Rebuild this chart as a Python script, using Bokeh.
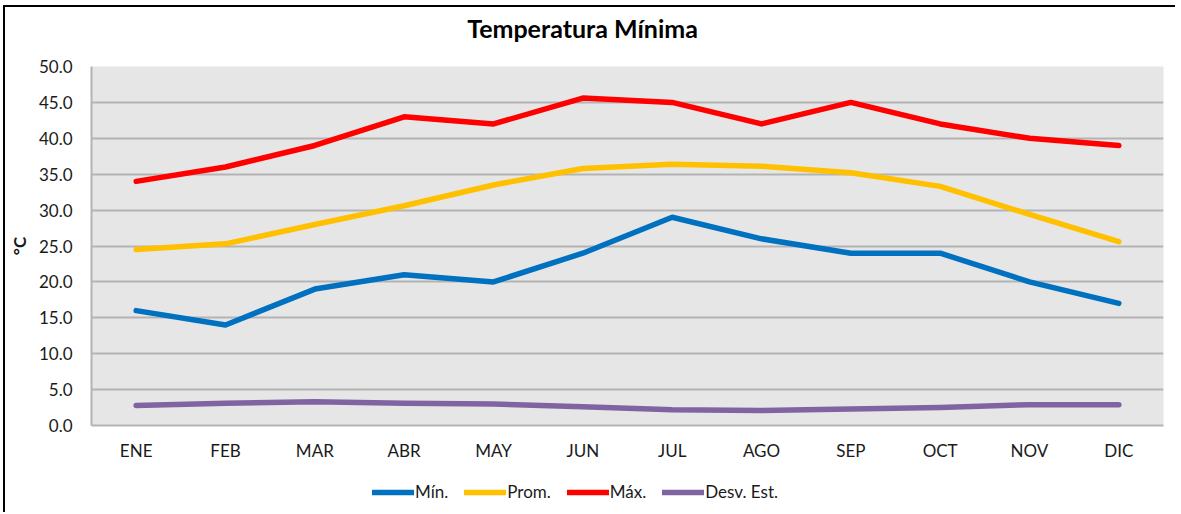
from bokeh.plotting import figure
from bokeh.layouts import column
from bokeh.models import (FactorRange, Range1d, Legend, LegendItem, SingleIntervalTicker,
                          NumeralTickFormatter, Label)
from bokeh.embed import file_html
from bokeh.resources import INLINE

months = ["ENE", "FEB", "MAR", "ABR", "MAY", "JUN", "JUL", "AGO", "SEP", "OCT", "NOV", "DIC"]
t_min = [16.0, 14.0, 19.0, 21.0, 20.0, 24.0, 29.0, 26.0, 24.0, 24.0, 20.0, 17.0]
t_prom = [24.5, 25.3, 28.0, 30.6, 33.5, 35.8, 36.4, 36.1, 35.2, 33.3, 29.4, 25.6]
t_max = [34.0, 36.0, 39.0, 43.0, 42.0, 45.6, 45.0, 42.0, 45.0, 42.0, 40.0, 39.0]
t_desv = [2.8, 3.1, 3.3, 3.1, 3.0, 2.6, 2.2, 2.1, 2.3, 2.5, 2.9, 2.9]
title_text = "Temperatura Mínima"

FONT = "Lato"
TXT = "#1a1a1a"
W = 1170

# header strip holding the chart title
hd = figure(width=W, height=40, x_range=Range1d(0, 1), y_range=Range1d(0, 1),
            x_axis_location=None, y_axis_location=None,
            output_backend="svg", toolbar_location=None,
            min_border_left=0, min_border_right=0, min_border_top=0, min_border_bottom=0)
hd.grid.visible = False
hd.outline_line_color = None
hd.background_fill_color = "white"
hd.border_fill_color = "white"
hd.add_layout(Label(x=491, y=20, x_units="screen", y_units="screen", text=title_text,
                    text_align="center", text_baseline="middle", text_font=FONT,
                    text_font_size="25px", text_font_style="bold", text_color="#000000"))

p = figure(
    width=W, height=421,
    x_range=FactorRange(*months, range_padding=0),
    y_range=Range1d(0, 50),
    output_backend="svg", toolbar_location=None,
    min_border_left=86, min_border_right=12, min_border_top=19, min_border_bottom=43,
)

p.background_fill_color = "#e6e6e6"
p.border_fill_color = "white"
p.outline_line_color = None

p.xgrid.grid_line_color = None
p.ygrid.grid_line_color = "#b3b3b3"
p.ygrid.grid_line_width = 2

p.yaxis.ticker = SingleIntervalTicker(interval=5)
p.yaxis.formatter = NumeralTickFormatter(format="0.0")
p.yaxis.axis_label = "°C"
p.yaxis.axis_label_text_font = FONT
p.yaxis.axis_label_text_font_size = "17px"
p.yaxis.axis_label_text_font_style = "bold"
p.yaxis.axis_label_text_color = TXT
p.yaxis.axis_label_standoff = 6
p.yaxis.axis_line_color = "#b3b3b3"
p.yaxis.axis_line_width = 2
p.yaxis.major_tick_line_color = None
p.yaxis.minor_tick_line_color = None
p.yaxis.major_label_standoff = 13

p.xaxis.axis_line_color = "#b3b3b3"
p.xaxis.axis_line_width = 2
p.xaxis.major_tick_line_color = None
p.xaxis.minor_tick_line_color = None
p.xaxis.major_label_standoff = 8

for ax in (p.xaxis, p.yaxis):
    ax.major_label_text_font = FONT
    ax.major_label_text_font_size = "17px"
    ax.major_label_text_color = TXT

series = [
    ("Mín.", t_min, "#0070c0"),
    ("Prom.", t_prom, "#ffc000"),
    ("Máx.", t_max, "#ff0000"),
    ("Desv. Est.", t_desv, "#8064a2"),
]
for label, vals, color in series:
    p.line(months, vals, line_color=color, line_width=5.5, line_cap="round", line_join="round")

# legend strip below the chart (same series, drawn outside its visible range)
lg = figure(
    width=W, height=44,
    x_range=FactorRange(*months, range_padding=0),
    y_range=Range1d(1000, 1001),
    x_axis_location=None, y_axis_location=None,
    output_backend="svg", toolbar_location=None,
    min_border_left=0, min_border_right=0, min_border_top=0, min_border_bottom=0,
)
lg.grid.visible = False
lg.outline_line_color = None
lg.background_fill_color = "white"
lg.border_fill_color = "white"
items = []
for label, vals, color in series:
    r = lg.line(months, vals, line_color=color, line_width=5.5, line_cap="round")
    items.append(LegendItem(label=label, renderers=[r]))

legend = Legend(items=items, orientation="horizontal", location=(281, 10),
                glyph_width=42, glyph_height=14, label_standoff=1, spacing=16,
                label_text_font=FONT, label_text_font_size="17px", label_text_color=TXT,
                background_fill_alpha=0, border_line_color=None, margin=0, padding=2)
lg.add_layout(legend, "center")

layout = column(hd, p, lg, spacing=0)
layout.styles = {"border-left": "2px solid #000000", "border-top": "2px solid #000000",
                 "margin-left": "3px", "margin-top": "5px"}
open("out.html", "w").write(file_html(layout, INLINE))
